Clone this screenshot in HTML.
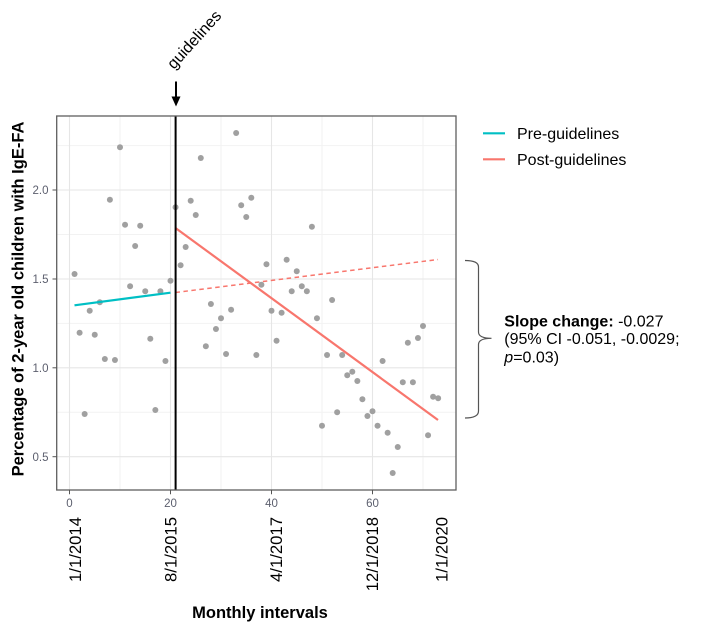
<!DOCTYPE html>
<html><head><meta charset="utf-8"><style>
html,body{margin:0;padding:0;background:#fff;}
svg{display:block;font-family:"Liberation Sans",Arial,sans-serif;}
</style></head><body>
<svg width="703" height="623" viewBox="0 0 703 623" xmlns="http://www.w3.org/2000/svg">
<rect x="0" y="0" width="703" height="623" fill="#fff"/>
<g stroke="#f2f2f2" stroke-width="1">
<line x1="120" y1="116" x2="120" y2="490"/>
<line x1="221" y1="116" x2="221" y2="490"/>
<line x1="322" y1="116" x2="322" y2="490"/>
<line x1="423" y1="116" x2="423" y2="490"/>
<line x1="56.7" y1="412.25" x2="456" y2="412.25"/>
<line x1="56.7" y1="323.4" x2="456" y2="323.4"/>
<line x1="56.7" y1="234.5" x2="456" y2="234.5"/>
<line x1="56.7" y1="145.6" x2="456" y2="145.6"/>
</g>
<g stroke="#e6e6e6" stroke-width="1.1">
<line x1="69.5" y1="116" x2="69.5" y2="490"/>
<line x1="170.5" y1="116" x2="170.5" y2="490"/>
<line x1="271.5" y1="116" x2="271.5" y2="490"/>
<line x1="372.5" y1="116" x2="372.5" y2="490"/>
<line x1="56.7" y1="456.7" x2="456" y2="456.7"/>
<line x1="56.7" y1="367.8" x2="456" y2="367.8"/>
<line x1="56.7" y1="279" x2="456" y2="279"/>
<line x1="56.7" y1="190" x2="456" y2="190"/>
</g>
<g fill="#a0a0a0">
<circle cx="74.55" cy="274" r="3"/>
<circle cx="79.6" cy="332.7" r="3"/>
<circle cx="84.65" cy="414" r="3"/>
<circle cx="89.7" cy="310.7" r="3"/>
<circle cx="94.75" cy="334.7" r="3"/>
<circle cx="99.8" cy="302.3" r="3"/>
<circle cx="104.85" cy="359" r="3"/>
<circle cx="109.9" cy="199.7" r="3"/>
<circle cx="114.95" cy="360" r="3"/>
<circle cx="120" cy="147.3" r="3"/>
<circle cx="125.05" cy="224.7" r="3"/>
<circle cx="130.1" cy="286.3" r="3"/>
<circle cx="135.15" cy="246" r="3"/>
<circle cx="140.2" cy="225.7" r="3"/>
<circle cx="145.25" cy="291.3" r="3"/>
<circle cx="150.3" cy="338.7" r="3"/>
<circle cx="155.35" cy="410" r="3"/>
<circle cx="160.4" cy="291.3" r="3"/>
<circle cx="165.45" cy="361" r="3"/>
<circle cx="170.5" cy="280.7" r="3"/>
<circle cx="175.55" cy="207.3" r="3"/>
<circle cx="180.6" cy="265.3" r="3"/>
<circle cx="185.65" cy="247" r="3"/>
<circle cx="190.7" cy="200.7" r="3"/>
<circle cx="195.75" cy="215" r="3"/>
<circle cx="200.8" cy="158" r="3"/>
<circle cx="205.85" cy="346.3" r="3"/>
<circle cx="210.9" cy="304" r="3"/>
<circle cx="215.95" cy="329" r="3"/>
<circle cx="221" cy="318.3" r="3"/>
<circle cx="226.05" cy="354" r="3"/>
<circle cx="231.1" cy="309.7" r="3"/>
<circle cx="236.15" cy="133" r="3"/>
<circle cx="241.2" cy="205.3" r="3"/>
<circle cx="246.25" cy="217" r="3"/>
<circle cx="251.3" cy="197.7" r="3"/>
<circle cx="256.35" cy="355" r="3"/>
<circle cx="261.4" cy="284.7" r="3"/>
<circle cx="266.45" cy="264.3" r="3"/>
<circle cx="271.5" cy="310.7" r="3"/>
<circle cx="276.55" cy="340.7" r="3"/>
<circle cx="281.6" cy="312.7" r="3"/>
<circle cx="286.65" cy="259.7" r="3"/>
<circle cx="291.7" cy="291.3" r="3"/>
<circle cx="296.75" cy="271.3" r="3"/>
<circle cx="301.8" cy="286.3" r="3"/>
<circle cx="306.85" cy="291.3" r="3"/>
<circle cx="311.9" cy="226.7" r="3"/>
<circle cx="316.95" cy="318.3" r="3"/>
<circle cx="322" cy="425.7" r="3"/>
<circle cx="327.05" cy="355" r="3"/>
<circle cx="332.1" cy="300" r="3"/>
<circle cx="337.15" cy="412.3" r="3"/>
<circle cx="342.2" cy="355" r="3"/>
<circle cx="347.25" cy="375.3" r="3"/>
<circle cx="352.3" cy="371.7" r="3"/>
<circle cx="357.35" cy="381" r="3"/>
<circle cx="362.4" cy="399.3" r="3"/>
<circle cx="367.45" cy="416" r="3"/>
<circle cx="372.5" cy="411.3" r="3"/>
<circle cx="377.55" cy="425.7" r="3"/>
<circle cx="382.6" cy="361" r="3"/>
<circle cx="387.65" cy="432.7" r="3"/>
<circle cx="392.7" cy="473" r="3"/>
<circle cx="397.75" cy="447" r="3"/>
<circle cx="402.8" cy="382.3" r="3"/>
<circle cx="407.85" cy="342.7" r="3"/>
<circle cx="412.9" cy="382.3" r="3"/>
<circle cx="417.95" cy="338" r="3"/>
<circle cx="423" cy="326" r="3"/>
<circle cx="428.05" cy="435.3" r="3"/>
<circle cx="433.1" cy="396.7" r="3"/>
<circle cx="438.15" cy="398.3" r="3"/>
</g>
<line x1="74.5" y1="305.3" x2="170.5" y2="292.7" stroke="#00BFC4" stroke-width="2.2"/>
<line x1="175.5" y1="228" x2="438" y2="420" stroke="#F8766D" stroke-width="2.2"/>
<line x1="175.5" y1="292.5" x2="438" y2="259.5" stroke="#F8766D" stroke-width="1.5" stroke-dasharray="4.5 3.5"/>
<line x1="175.6" y1="116" x2="175.6" y2="490" stroke="#000" stroke-width="2"/>
<rect x="56.7" y="116" width="399.3" height="374" fill="none" stroke="#5f5f5f" stroke-width="1.3"/>
<g stroke="#555" stroke-width="1">
<line x1="52.5" y1="456.7" x2="56.7" y2="456.7"/>
<line x1="52.5" y1="367.8" x2="56.7" y2="367.8"/>
<line x1="52.5" y1="279" x2="56.7" y2="279"/>
<line x1="52.5" y1="190" x2="56.7" y2="190"/>
<line x1="69.5" y1="490" x2="69.5" y2="494.3"/>
<line x1="170.5" y1="490" x2="170.5" y2="494.3"/>
<line x1="271.5" y1="490" x2="271.5" y2="494.3"/>
<line x1="372.5" y1="490" x2="372.5" y2="494.3"/>
</g>
<g fill="#5c5f6e" font-size="11.5" text-anchor="end">
<text x="48.5" y="460.8">0.5</text>
<text x="48.5" y="371.9">1.0</text>
<text x="48.5" y="283.1">1.5</text>
<text x="48.5" y="194.1">2.0</text>
</g>
<g fill="#5c5f6e" font-size="11.5" text-anchor="middle">
<text x="69.5" y="507">0</text>
<text x="170.5" y="507">20</text>
<text x="271.5" y="507">40</text>
<text x="372.5" y="507">60</text>
</g>
<g fill="#000" font-size="16.7" text-anchor="end">
<text transform="translate(81,517) rotate(-90)">1/1/2014</text>
<text transform="translate(176.3,517) rotate(-90)">8/1/2015</text>
<text transform="translate(282,517) rotate(-90)">4/1/2017</text>
<text transform="translate(378,517) rotate(-90)">12/1/2018</text>
<text transform="translate(447.7,517) rotate(-90)">1/1/2020</text>
</g>
<text x="260" y="618" font-size="16.5" font-weight="bold" text-anchor="middle" fill="#000">Monthly intervals</text>
<text transform="translate(23.5,299) rotate(-90)" font-size="16.5" font-weight="bold" text-anchor="middle" fill="#000">Percentage of 2-year old children with IgE-FA</text>
<text transform="translate(174,70) rotate(-48)" font-size="16" fill="#000">guidelines</text>
<line x1="176" y1="81.5" x2="176" y2="98" stroke="#000" stroke-width="2"/>
<polygon points="171.5,96.5 180.5,96.5 176,106.5" fill="#000"/>
<line x1="483" y1="133.3" x2="505" y2="133.3" stroke="#00BFC4" stroke-width="2.2"/>
<text x="517" y="139" font-size="16" fill="#000">Pre-guidelines</text>
<line x1="483" y1="159.3" x2="505" y2="159.3" stroke="#F8766D" stroke-width="2.2"/>
<text x="517" y="165" font-size="16" fill="#000">Post-guidelines</text>
<path d="M465 260.5 Q478.5 260.5 478.5 267 L478.5 332 Q478.5 338.3 491.5 338.3 Q478.5 338.3 478.5 344.5 L478.5 411 Q478.5 418 465 418" fill="none" stroke="#555" stroke-width="1.2"/>
<g font-size="16" fill="#000">
<text x="504.3" y="326.4"><tspan font-weight="bold">Slope change:</tspan> -0.027</text>
<text x="504.3" y="344">(95% CI -0.051, -0.0029;</text>
<text x="504.3" y="362.4"><tspan font-style="italic">p</tspan>=0.03)</text>
</g>
</svg>
</body></html>
